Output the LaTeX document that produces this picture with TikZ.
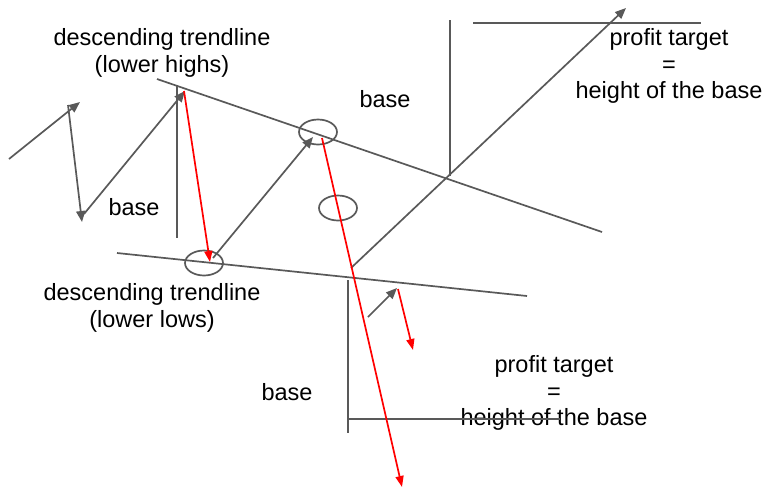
\documentclass[tikz,border=0pt]{standalone}
\usepackage{fontspec}
\setmainfont{Liberation Sans}
\usetikzlibrary{arrows.meta,shapes.geometric}
\definecolor{linegray}{RGB}{89,89,89}
\tikzset{
  trendline/.style={draw=linegray, line width=1.7pt},
  moveline/.style={-{Triangle[length=11pt,width=9pt]}, draw=linegray, line width=1.7pt},
  dropline/.style={-{Triangle[length=11pt,width=8pt]}, draw=red, line width=1.7pt},
  touchmark/.style={draw=linegray, ellipse, line width=1.7pt, minimum width=38pt, minimum height=25pt, inner sep=0pt},
  chartlabel/.style={font=\fontsize{23.5}{26.5}\selectfont, align=center, inner sep=0pt}
}
\begin{document}
\begin{tikzpicture}[x=1pt, y=-1pt]
  \useasboundingbox (0,0) rectangle (766,488);
  \coordinate (z0) at (9,159);
  \coordinate (z1) at (80,102);
  \coordinate (z2) at (68,105);
  \coordinate (z3) at (82,222);
  \coordinate (z4) at (84,214);
  \coordinate (z5) at (185,91);
  \coordinate (bh1) at (177,86);
  \coordinate (bh2) at (177,238);
  \coordinate (hi1) at (157,79);
  \coordinate (hi2) at (602,232);
  \coordinate (lo1) at (117,253);
  \coordinate (lo2) at (527,296);
  \coordinate (r1) at (184,91);
  \coordinate (r2) at (210,262);
  \coordinate (g1) at (213,258);
  \coordinate (g2) at (313,137);
  \coordinate (r3) at (322,138);
  \coordinate (r4) at (402,487);
  \coordinate (up1) at (351,268);
  \coordinate (up2) at (626,8);
  \coordinate (tv1) at (450,20);
  \coordinate (tv2) at (450,176);
  \coordinate (th1) at (473,23);
  \coordinate (th2) at (701,23);
  \coordinate (bv1) at (348,280);
  \coordinate (bv2) at (348,433);
  \coordinate (bt1) at (348,419);
  \coordinate (bt2) at (560,419);
  \coordinate (s1) at (368,317);
  \coordinate (s2) at (397,288);
  \coordinate (s3) at (398,289);
  \coordinate (s4) at (413,350);

  \node[touchmark] (lowtouch) at (204,263) {};
  \node[touchmark] (hightouch) at (318,132) {};
  \node[touchmark] (breaktouch) at (338,208) {};

  \node[chartlabel] (highslabel) at (162,53) {descending trendline\\(lower highs)};
  \node[chartlabel] (lowslabel) at (152,308) {descending trendline\\(lower lows)};
  \node[chartlabel, anchor=base] (baseleft) at (134,215) {base};
  \node[chartlabel, anchor=base] (basetop) at (385,107) {base};
  \node[chartlabel, anchor=base] (basebottom) at (287,400) {base};
  \node[chartlabel] (targettop) at (669,66) {profit target\\=\\height of the base};
  \node[chartlabel] (targetbottom) at (554,393) {profit target\\=\\height of the base};

  \draw[trendline] (hi1) -- (hi2);
  \draw[trendline] (lo1) -- (lo2);
  \draw[trendline] (bh1) -- (bh2);
  \draw[trendline] (tv1) -- (tv2);
  \draw[trendline] (th1) -- (th2);
  \draw[trendline] (bv1) -- (bv2);
  \draw[trendline] (bt1) -- (bt2);
  \draw[moveline] (z0) -- (z1);
  \draw[moveline] (z2) -- (z3);
  \draw[moveline] (z4) -- (z5);
  \draw[moveline] (g1) -- (g2);
  \draw[moveline] (up1) -- (up2);
  \draw[moveline] (s1) -- (s2);
  \draw[dropline] (r1) -- (r2);
  \draw[dropline] (r3) -- (r4);
  \draw[dropline] (s3) -- (s4);
\end{tikzpicture}
\end{document}
